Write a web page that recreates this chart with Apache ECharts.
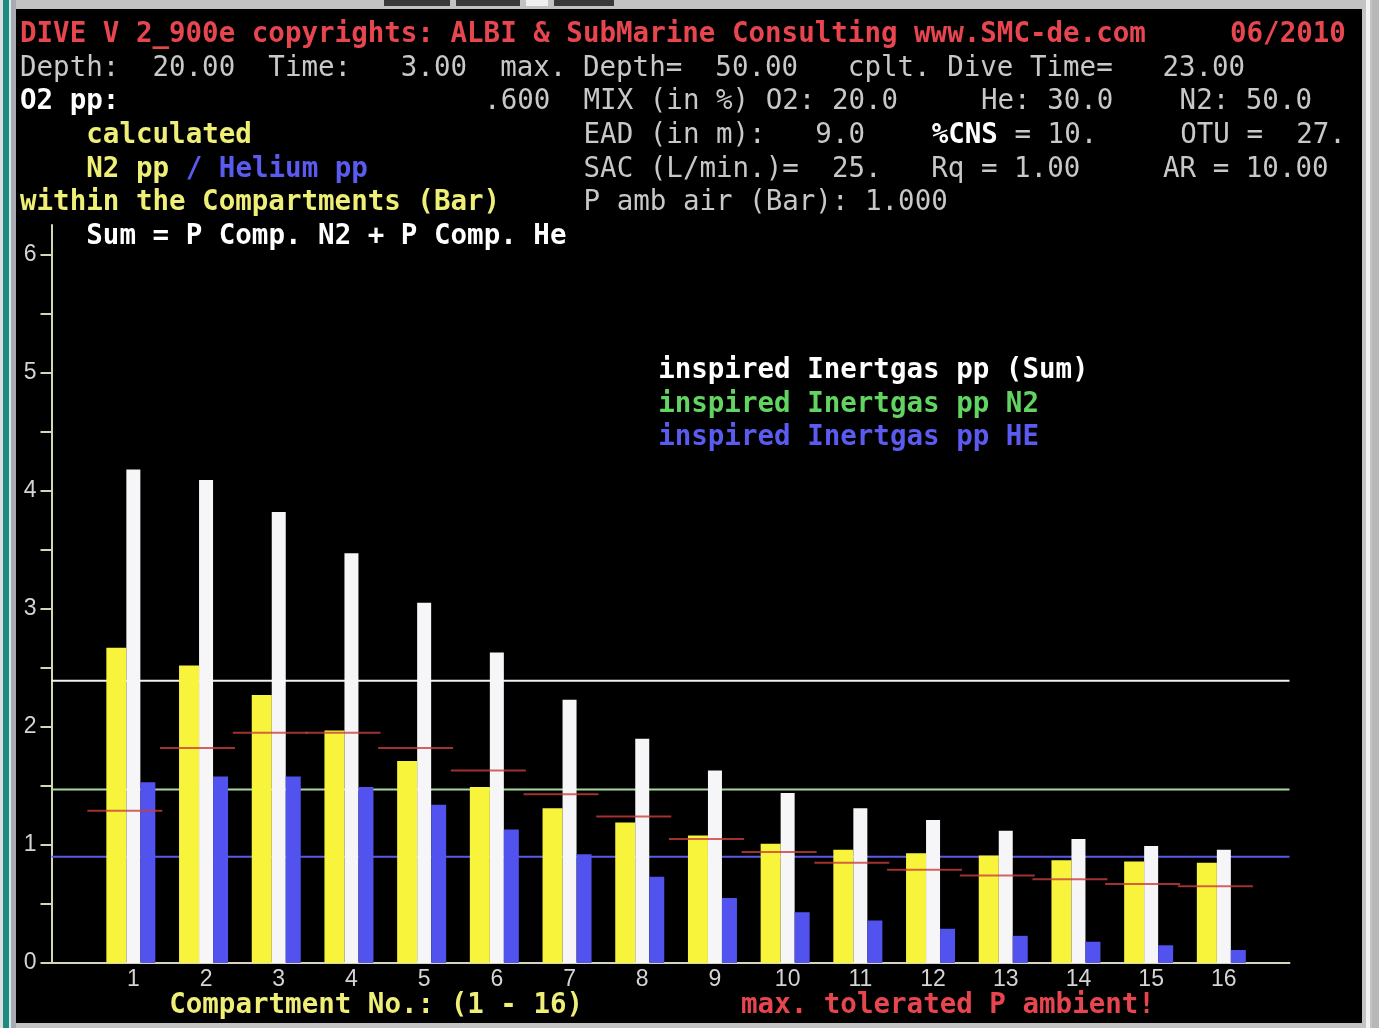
<!DOCTYPE html>
<html>
<head>
<meta charset="utf-8">
<script src="https://cdn.jsdelivr.net/npm/echarts@6/dist/echarts.min.js"></script>
<style>
html,body{margin:0;padding:0;background:#c3c3c3;width:1379px;height:1028px;overflow:hidden;}
.deco{position:absolute;}
#screen{position:absolute;left:16px;top:9px;width:1346px;height:1014px;background:#000;}
#chart{position:absolute;left:0;top:0;width:1379px;height:1028px;}
</style>
</head>
<body>
<div class="deco" style="left:0;top:0;width:3px;height:1028px;background:#dedede"></div>
<div class="deco" style="left:3px;top:0;width:6px;height:1028px;background:#1f8b80"></div>
<div class="deco" style="left:9px;top:0;width:2px;height:1028px;background:#d6ecec"></div>
<div class="deco" style="left:11px;top:0;width:5px;height:1028px;background:#a9a9b2"></div>
<div class="deco" style="left:1366px;top:0;width:4px;height:1028px;background:#f2f2f2"></div>
<div class="deco" style="left:1372px;top:0;width:7px;height:1028px;background:#b8b8b8"></div>
<div class="deco" style="left:384px;top:0;width:66px;height:6px;background:#3a3a3a"></div>
<div class="deco" style="left:456px;top:0;width:64px;height:6px;background:#3a3a3a"></div>
<div class="deco" style="left:526px;top:0;width:22px;height:6px;background:#f0f0f0"></div>
<div class="deco" style="left:554px;top:0;width:60px;height:6px;background:#3a3a3a"></div>
<div id="screen"></div>
<div id="chart"></div>
<script>
// ---------------- data ----------------
const compartments = ['1','2','3','4','5','6','7','8','9','10','11','12','13','14','15','16'];
const n2Pressure   = [2.67, 2.52, 2.27, 1.97, 1.71, 1.49, 1.31, 1.19, 1.08, 1.01, 0.96, 0.93, 0.91, 0.87, 0.86, 0.85];
const sumPressure  = [4.18, 4.09, 3.82, 3.47, 3.05, 2.63, 2.23, 1.90, 1.63, 1.44, 1.31, 1.21, 1.12, 1.05, 0.99, 0.96];
const hePressure   = [1.53, 1.58, 1.58, 1.49, 1.34, 1.13, 0.92, 0.73, 0.55, 0.43, 0.36, 0.29, 0.23, 0.18, 0.15, 0.11];
const maxTolerated = [1.29, 1.82, 1.95, 1.95, 1.82, 1.63, 1.43, 1.24, 1.05, 0.94, 0.85, 0.79, 0.74, 0.71, 0.67, 0.65];
const inspiredSum = 2.39;
const inspiredN2  = 1.47;
const inspiredHe  = 0.90;
const yTickValues  = [0, 0.5, 1, 1.5, 2, 2.5, 3, 3.5, 4, 4.5, 5, 5.5, 6];
const yLabelValues = [0, 1, 2, 3, 4, 5, 6];

// ---------------- colours ----------------
const C = {
  red: '#e8464f', grey: '#c8c8c8', white: '#ffffff', yellow: '#efef78',
  blueText: '#5b5bf2', greenText: '#62d462',
  barYellow: '#f8f43c', barWhite: '#f6f6f8', barBlue: '#5252ee',
  marker: '#c8403c', axis: '#d6d6b6', tickLabel: '#d4d4d4',
  lineWhite: '#f0f0f0', lineGreen: '#a8d8a0', lineBlue: '#5a5ae6'
};

// ---------------- console text (80-column grid) ----------------
const CELL_W = 16.575, COL0 = 20, ROW0 = 35, ROW_H = 33.6;
const headerTexts = [
  {row:0, col:0,  text:'DIVE V 2_900e copyrights: ALBI & SubMarine Consulting www.SMC-de.com', color:C.red, bold:true},
  {row:0, col:73, text:'06/2010', color:C.red, bold:true},
  {row:1, col:0,  text:'Depth:  20.00  Time:   3.00  max. Depth=  50.00   cplt. Dive Time=   23.00', color:C.grey},
  {row:2, col:0,  text:'O2 pp:', color:C.white, bold:true},
  {row:2, col:28, text:'.600', color:C.grey},
  {row:2, col:34, text:'MIX (in %) O2: 20.0     He: 30.0    N2: 50.0', color:C.grey},
  {row:3, col:4,  text:'calculated', color:C.yellow, bold:true},
  {row:3, col:34, text:'EAD (in m):   9.0', color:C.grey},
  {row:3, col:55, text:'%CNS', color:C.white, bold:true},
  {row:3, col:59, text:' = 10.', color:C.grey},
  {row:3, col:70, text:'OTU =  27.', color:C.grey},
  {row:4, col:4,  text:'N2 pp', color:C.yellow, bold:true},
  {row:4, col:10, text:'/ Helium pp', color:C.blueText, bold:true},
  {row:4, col:34, text:'SAC (L/min.)=  25.   Rq = 1.00     AR = 10.00', color:C.grey},
  {row:5, col:0,  text:'within the Compartments (Bar)', color:C.yellow, bold:true},
  {row:5, col:34, text:'P amb air (Bar): 1.000', color:C.grey},
  {row:6, col:4,  text:'Sum = P Comp. N2 + P Comp. He', color:C.white, bold:true},
  {row:10, col:38.5, text:'inspired Inertgas pp (Sum)', color:C.white, bold:true},
  {row:11, col:38.5, text:'inspired Inertgas pp N2', color:C.greenText, bold:true},
  {row:12, col:38.5, text:'inspired Inertgas pp HE', color:C.blueText, bold:true},
  {y:1006, col:9,    text:'Compartment No.: (1 - 16)', color:C.yellow, bold:true},
  {y:1006, col:43.5, text:'max. tolerated P ambient!', color:C.red, bold:true}
];

function textEl(seg) {
  return {
    type: 'text', silent: true, z: 100,
    x: COL0 + seg.col * CELL_W,
    y: seg.y !== undefined ? seg.y : ROW0 + seg.row * ROW_H,
    style: {
      text: seg.text, fill: seg.color,
      font: (seg.bold ? 'bold ' : '') + '27.5px "DejaVu Sans Mono"',
      align: 'left', verticalAlign: 'middle'
    }
  };
}

// ---------------- chart ----------------
const labelFont = {fontFamily: 'Liberation Sans', fontSize: 23, color: C.tickLabel};
const chart = echarts.init(document.getElementById('chart'), null, {renderer: 'canvas'});

function refLine(value, color) {
  return {
    type: 'line', xAxisIndex: 1, yAxisIndex: 1, silent: true, z: 1,
    symbol: 'none', data: [[0, value], [1, value]],
    lineStyle: {color: color, width: 2}
  };
}

chart.setOption({
  backgroundColor: 'transparent',
  animation: false,
  grid: [
    {left: 94.5, top: 225, width: 16 * 72.7, height: 738, outerBoundsMode: 'none'},
    {left: 51.5, top: 225, width: 1238, height: 738, outerBoundsMode: 'none'}
  ],
  xAxis: [
    {type: 'category', gridIndex: 0, data: compartments,
     axisLine: {show: false}, axisTick: {show: false}, splitLine: {show: false},
     axisLabel: Object.assign({margin: 5, padding: [0, 0, 0, 5]}, labelFont)},
    {type: 'value', gridIndex: 1, min: 0, max: 1,
     axisLine: {show: true, onZero: false, lineStyle: {color: C.axis, width: 2}},
     axisTick: {show: false}, axisLabel: {show: false}, splitLine: {show: false}}
  ],
  yAxis: [
    {type: 'value', gridIndex: 0, min: 0, max: 6.25, show: false},
    {type: 'value', gridIndex: 1, min: 0, max: 6.25,
     axisLine: {show: true, onZero: false, lineStyle: {color: C.axis, width: 2}},
     axisTick: {show: true, inside: false, length: 11, customValues: yTickValues,
                lineStyle: {color: C.axis, width: 2}},
     axisLabel: Object.assign({customValues: yLabelValues, margin: 15, padding: [0, 0, 8, 0]}, labelFont),
     splitLine: {show: false}}
  ],
  series: [
    refLine(inspiredSum, C.lineWhite),
    refLine(inspiredN2, C.lineGreen),
    refLine(inspiredHe, C.lineBlue),
    {type: 'bar', name: 'N2', xAxisIndex: 0, yAxisIndex: 0, data: n2Pressure,
     barWidth: 20, barGap: '0%', z: 2, silent: true, itemStyle: {color: C.barYellow}},
    {type: 'bar', name: 'Sum', xAxisIndex: 0, yAxisIndex: 0, data: sumPressure,
     barWidth: 14, barGap: '0%', z: 2, silent: true, itemStyle: {color: C.barWhite}},
    {type: 'bar', name: 'He', xAxisIndex: 0, yAxisIndex: 0, data: hePressure,
     barWidth: 15, barGap: '0%', z: 2, silent: true, itemStyle: {color: C.barBlue}},
    {type: 'scatter', name: 'max tolerated', xAxisIndex: 0, yAxisIndex: 0, data: maxTolerated,
     symbol: 'rect', symbolSize: [75, 2], symbolOffset: [-6, 0], z: 5, silent: true,
     itemStyle: {color: C.marker}}
  ],
  graphic: headerTexts.map(textEl)
});
</script>
</body>
</html>
